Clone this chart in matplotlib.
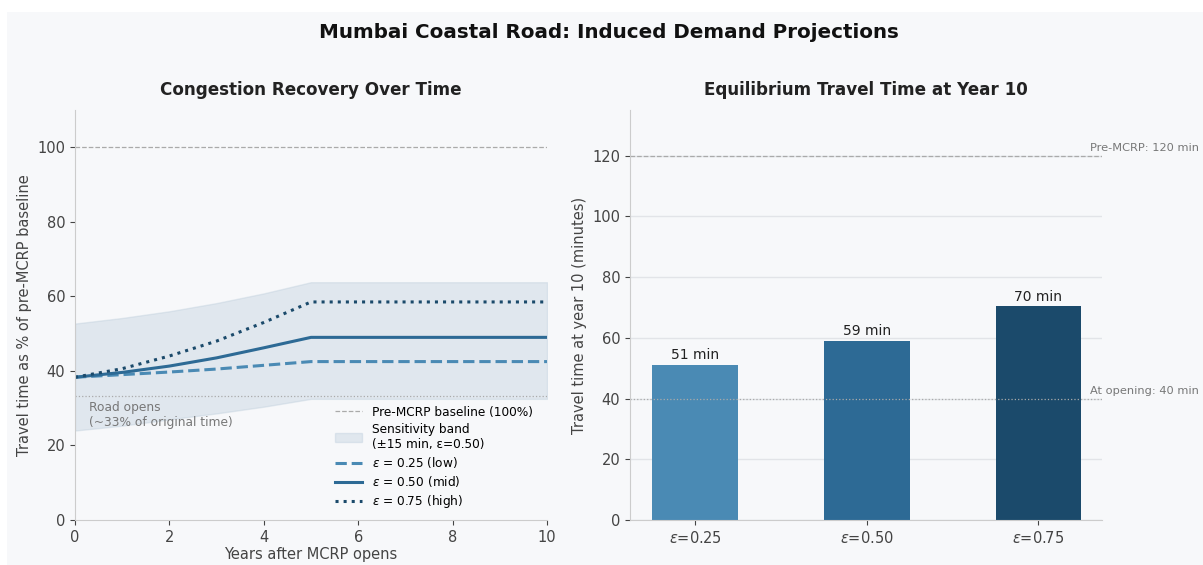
import numpy as np
import matplotlib.pyplot as plt
from matplotlib.patches import Rectangle

# --- data ---
years = [0, 1, 2, 3, 4, 5, 6, 7, 8, 9, 10]
low = [38.3, 39.0, 39.7, 40.5, 41.5, 42.5, 42.5, 42.5, 42.5, 42.5, 42.5]
mid = [38.3, 39.6, 41.3, 43.5, 46.2, 49.0, 49.0, 49.0, 49.0, 49.0, 49.0]
high = [38.3, 40.6, 44.0, 48.0, 53.0, 58.5, 58.5, 58.5, 58.5, 58.5, 58.5]
band_lo = [24.0, 25.3, 27.0, 28.6, 30.4, 32.5, 32.5, 32.5, 32.5, 32.5, 32.5]
band_hi = [52.7, 54.2, 56.0, 58.2, 60.8, 63.8, 63.8, 63.8, 63.8, 63.8, 63.8]
opening_pct = 33.3

bar_labels = [r"$\varepsilon$=0.25", r"$\varepsilon$=0.50", r"$\varepsilon$=0.75"]
bar_vals = [51.2, 59.0, 70.3]
pre_min = 120
open_min = 40

c_low = "#4a8ab4"
c_mid = "#2d6a95"
c_high = "#1b4a6b"
bg = "#f7f8fa"

plt.rcParams["font.family"] = "DejaVu Sans"

fig = plt.figure(figsize=(12.03, 5.65), dpi=100, facecolor="white")
fig.patches.append(Rectangle((7 / 1203, 0), 1, 1 - 12 / 565, transform=fig.transFigure,
                             facecolor=bg, edgecolor="none", zorder=-10))

ax1 = fig.add_axes([75 / 1203, 45 / 565, 472 / 1203, 410 / 565])
ax2 = fig.add_axes([630 / 1203, 45 / 565, 472 / 1203, 410 / 565])

for ax in (ax1, ax2):
    ax.set_facecolor(bg)
    for s in ("top", "right"):
        ax.spines[s].set_visible(False)
    for s in ("left", "bottom"):
        ax.spines[s].set_color("#cccccc")
    ax.tick_params(colors="#444444", labelsize=10.5)

# left panel
ax1.axhline(100, color="#aaaaaa", ls="--", lw=0.9, label="Pre-MCRP baseline (100%)")
ax1.fill_between(years, band_lo, band_hi, color="#b7c9d8", alpha=0.35,
                 label="Sensitivity band\n(±15 min, ε=0.50)")
ax1.axhline(opening_pct, color="#aaaaaa", ls=":", lw=0.9)
ax1.plot(years, low, color=c_low, ls="--", lw=2.2, label=r"$\varepsilon$ = 0.25 (low)")
ax1.plot(years, mid, color=c_mid, ls="-", lw=2.2, label=r"$\varepsilon$ = 0.50 (mid)")
ax1.plot(years, high, color=c_high, ls=":", lw=2.2, label=r"$\varepsilon$ = 0.75 (high)")
ax1.text(0.3, 28.3, "Road opens\n(~33% of original time)", fontsize=8.8, color="#777777",
         va="center", ha="left")
ax1.set_xlim(0, 10)
ax1.set_ylim(0, 110)
ax1.set_xticks([0, 2, 4, 6, 8, 10])
ax1.set_yticks([0, 20, 40, 60, 80, 100])
ax1.set_xlabel("Years after MCRP opens", fontsize=10.5, color="#444444", labelpad=2)
ax1.set_ylabel("Travel time as % of pre-MCRP baseline", fontsize=10.5, color="#444444")
ax1.set_title("Congestion Recovery Over Time", fontsize=12.1, fontweight="bold",
              color="#222222", pad=11)
leg = ax1.legend(loc="lower right", bbox_to_anchor=(1.0, -5 / 410), fontsize=8.7,
                 frameon=False, handlelength=2.2, labelspacing=0.35, borderaxespad=0.8)

# right panel
x = np.arange(len(bar_vals))
ax2.grid(axis="y", color="#e2e4e8", lw=1)
ax2.set_axisbelow(True)
bars = ax2.bar(x, bar_vals, width=0.5, color=[c_low, c_mid, c_high])
for xi, v in zip(x, bar_vals):
    ax2.text(xi, v + 0.8, f"{v:.0f} min", ha="center", va="bottom", fontsize=10, color="#222222")
ax2.axhline(pre_min, color="#aaaaaa", ls="--", lw=0.9)
ax2.axhline(open_min, color="#aaaaaa", ls=":", lw=0.9)
ax2.text(2.30, pre_min + 2.5, f"Pre-MCRP: {pre_min} min", fontsize=8.2, color="#777777",
         va="center", ha="left", clip_on=False)
ax2.text(2.30, open_min + 2.5, f"At opening: {open_min} min", fontsize=8.2, color="#777777",
         va="center", ha="left", clip_on=False)
ax2.set_xlim(-0.38, 2.37)
ax2.set_ylim(0, 135)
ax2.set_xticks(x)
ax2.set_xticklabels(bar_labels)
ax2.set_yticks([0, 20, 40, 60, 80, 100, 120])
ax2.set_ylabel("Travel time at year 10 (minutes)", fontsize=10.5, color="#444444")
ax2.set_title("Equilibrium Travel Time at Year 10", fontsize=12.1, fontweight="bold",
              color="#222222", pad=11)

fig.suptitle("Mumbai Coastal Road: Induced Demand Projections", fontsize=14.3,
             fontweight="bold", color="#111111", x=0.506, y=0.96)

fig.savefig("out.png", dpi=100, facecolor=fig.get_facecolor())
